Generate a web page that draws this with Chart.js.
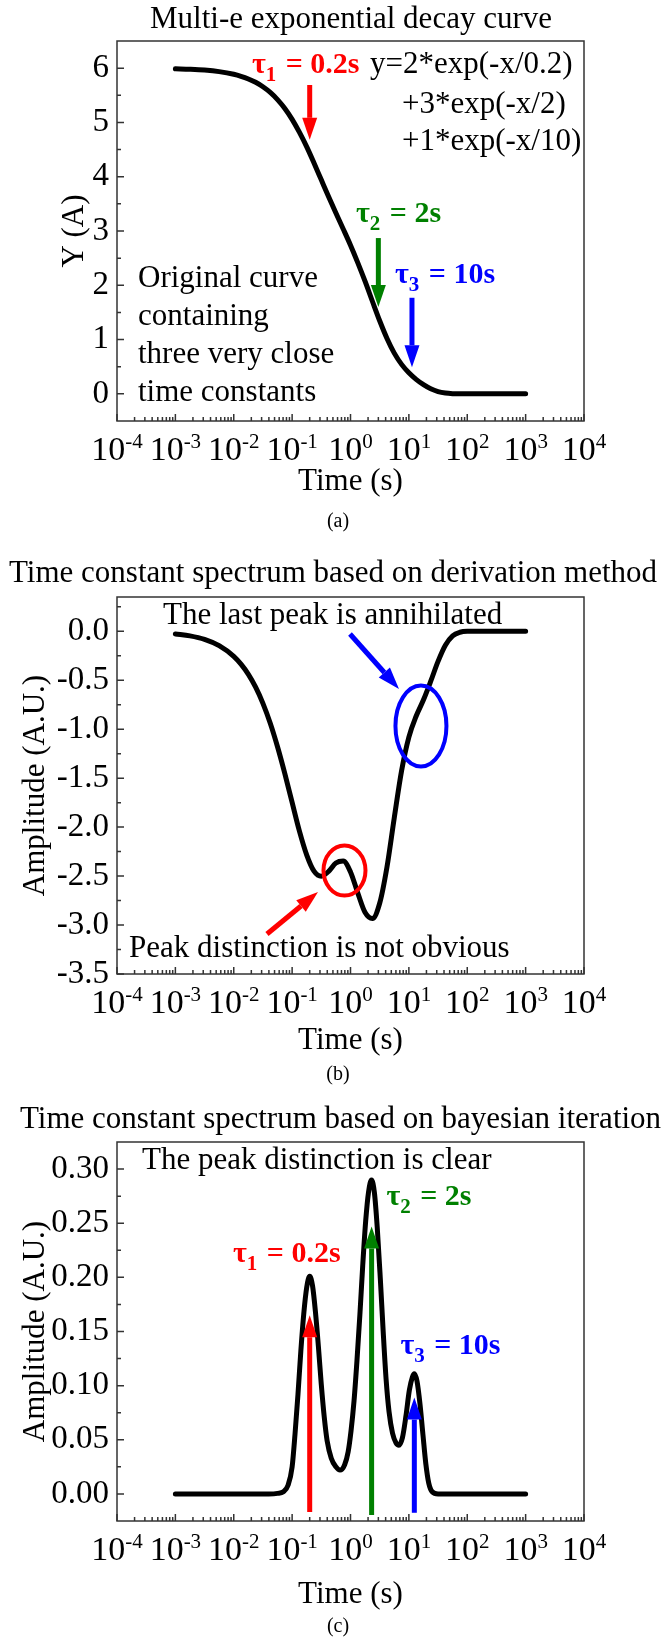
<!DOCTYPE html>
<html>
<head>
<meta charset="utf-8">
<script src="https://cdn.jsdelivr.net/npm/chart.js@4.4.1/dist/chart.umd.min.js"></script>
<style>
  html, body { margin: 0; padding: 0; background: #fff; }
  body { width: 661px; height: 1638px; position: relative; overflow: hidden; }
  canvas { position: absolute; left: 0; }
</style>
</head>
<body>
<canvas id="chartA" width="661" height="545" style="top:0px"></canvas>
<canvas id="chartB" width="661" height="550" style="top:545px"></canvas>
<canvas id="chartC" width="661" height="543" style="top:1095px"></canvas>
<script>
// sample times (s) shared by the decay curve and its derivative spectrum
const timeGrid = [0.001, 0.00178, 0.00316, 0.00562, 0.01, 0.0133, 0.0178, 0.0237, 0.0316, 0.0422,
  0.0562, 0.075, 0.1, 0.133, 0.178, 0.237, 0.316, 0.422, 0.562, 0.75,
  1, 1.33, 1.78, 2.37, 3.16, 4.22, 5.62, 7.5, 10, 13.3,
  17.8, 23.7, 31.6, 42.2, 56.2, 75, 100, 178, 316, 562, 1000];

// (a) multi-exponential decay, Y (A)
const currentA = [5.988, 5.979, 5.964, 5.936, 5.887, 5.850, 5.801, 5.739, 5.657, 5.553,
  5.421, 5.257, 5.057, 4.820, 4.549, 4.252, 3.942, 3.631, 3.330, 3.037,
  2.738, 2.418, 2.070, 1.706, 1.346, 1.020, 0.750, 0.543, 0.388, 0.267,
  0.169, 0.093, 0.042, 0.015, 0.004, 0.001, 0, 0, 0, 0, 0];

// (b) spectrum from the derivation method
const ampB = [-0.027, -0.047, -0.083, -0.147, -0.256, -0.336, -0.440, -0.571, -0.736, -0.939,
  -1.179, -1.453, -1.748, -2.038, -2.285, -2.449, -2.501, -2.452, -2.367, -2.347,
  -2.458, -2.672, -2.873, -2.934, -2.778, -2.406, -1.905, -1.425, -1.080, -0.868,
  -0.700, -0.510, -0.308, -0.143, -0.047, -0.010, -0.001, 0, 0, 0, 0];

// (c) spectrum from bayesian iteration
const timeC = [0.001, 0.01, 0.0398, 0.0562, 0.0708, 0.0851, 0.1, 0.112, 0.126, 0.141,
  0.158, 0.178, 0.2, 0.224, 0.251, 0.282, 0.316, 0.355, 0.398, 0.468,
  0.562, 0.661, 0.794, 0.912, 1.02, 1.15, 1.29, 1.45, 1.62, 1.82,
  2.04, 2.29, 2.57, 2.88, 3.24, 3.63, 4.07, 4.57, 5.25, 6.03,
  6.76, 7.76, 8.91, 10.2, 11.5, 12.4, 13.8, 15.5, 17.4, 19.5,
  21.9, 25.1, 31.6, 100, 1000];
const ampC = [0, 0, 0, 0.0005, 0.002, 0.008, 0.025, 0.055, 0.092, 0.132,
  0.166, 0.191, 0.201, 0.192, 0.168, 0.136, 0.101, 0.071, 0.049, 0.033,
  0.025, 0.022, 0.027, 0.039, 0.058, 0.086, 0.123, 0.166, 0.211, 0.252,
  0.279, 0.290, 0.278, 0.245, 0.199, 0.150, 0.106, 0.076, 0.056, 0.047,
  0.045, 0.052, 0.072, 0.096, 0.108, 0.111, 0.104, 0.083, 0.055, 0.028,
  0.010, 0.002, 0, 0, 0];

// axis ticks
const decades = [-4, -3, -2, -1, 0, 1, 2, 3, 4];
const yTicksA = [0, 1, 2, 3, 4, 5, 6];
const yMinorA = [0.5, 1.5, 2.5, 3.5, 4.5, 5.5];
const yTicksB = [0, -0.5, -1, -1.5, -2, -2.5, -3, -3.5];
const yMinorB = [0.25, -0.25, -0.75, -1.25, -1.75, -2.25, -2.75, -3.25];
const yTicksC = [0, 0.05, 0.1, 0.15, 0.2, 0.25, 0.3];
const yMinorC = [0.025, 0.075, 0.125, 0.175, 0.225, 0.275];

const SERIF = '"Liberation Serif", "Times New Roman", serif';
const AXIS = '#333';
const RED = '#ff0000', GREEN = '#008000', BLUE = '#0000ff';
const PLOT_LEFT = 117, PLOT_RIGHT = 584;

const minorX = [];
decades.slice(0, -1).forEach(e => { for (let m = 2; m <= 9; m++) minorX.push(m * Math.pow(10, e)); });

function tau(n, rest, x, y, color) {
  return { x, y, color, bold: true, size: 30, runs: [{ t: 'τ' }, { t: n, sub: true }, { t: rest }] };
}
function plain(text, x, y) {
  return { x, y, color: '#000', bold: false, size: 31, runs: [{ t: text }] };
}

function drawRuns(ctx, item, px, py) {
  let cx = px;
  ctx.fillStyle = item.color;
  ctx.textAlign = 'left';
  ctx.textBaseline = 'alphabetic';
  item.runs.forEach(r => {
    const size = r.sub ? Math.round(item.size * 0.7) : item.size;
    ctx.font = `${item.bold ? 'bold ' : ''}${size}px ${SERIF}`;
    ctx.fillText(r.t, cx, py + (r.sub ? 8 : 0));
    cx += ctx.measureText(r.t).width + (r.sub ? 2 : 0);
  });
}

function drawArrow(ctx, x1, y1, x2, y2, color) {
  const ang = Math.atan2(y2 - y1, x2 - x1);
  const headLen = 22, headHalf = 7.5;
  const bx = x2 - headLen * Math.cos(ang), by = y2 - headLen * Math.sin(ang);
  ctx.strokeStyle = color;
  ctx.fillStyle = color;
  ctx.lineWidth = 5;
  ctx.lineCap = 'butt';
  ctx.beginPath();
  ctx.moveTo(x1, y1);
  ctx.lineTo(bx, by);
  ctx.stroke();
  ctx.beginPath();
  ctx.moveTo(x2, y2);
  ctx.lineTo(bx + headHalf * Math.sin(ang), by - headHalf * Math.cos(ang));
  ctx.lineTo(bx - headHalf * Math.sin(ang), by + headHalf * Math.cos(ang));
  ctx.closePath();
  ctx.fill();
}

// frame, inward ticks, power-of-ten labels, titles and the annotations
function decor(panel) {
  return {
    id: 'decor',
    afterDraw(chart) {
      const { ctx, chartArea: a } = chart;
      const xs = chart.scales.x, ys = chart.scales.y;
      ctx.save();

      ctx.strokeStyle = AXIS;
      ctx.lineWidth = 1.5;
      ctx.strokeRect(a.left, a.top, a.right - a.left, a.bottom - a.top);
      ctx.beginPath();
      decades.forEach(e => {
        const px = xs.getPixelForValue(Math.pow(10, e));
        ctx.moveTo(px, a.bottom); ctx.lineTo(px, a.bottom - 7);
      });
      minorX.forEach(v => {
        const px = xs.getPixelForValue(v);
        ctx.moveTo(px, a.bottom); ctx.lineTo(px, a.bottom - 4);
      });
      panel.yMajor.forEach(v => {
        const py = ys.getPixelForValue(v);
        ctx.moveTo(a.left, py); ctx.lineTo(a.left + 7, py);
      });
      panel.yMinor.forEach(v => {
        const py = ys.getPixelForValue(v);
        ctx.moveTo(a.left, py); ctx.lineTo(a.left + 4, py);
      });
      ctx.stroke();

      ctx.fillStyle = '#000';
      ctx.textAlign = 'left';
      ctx.textBaseline = 'alphabetic';
      decades.forEach(e => {
        const base = '10', sup = e < 0 ? '-' + (-e) : String(e);
        ctx.font = `34px ${SERIF}`;
        const wb = ctx.measureText(base).width;
        ctx.font = `21px ${SERIF}`;
        const ws = ctx.measureText(sup).width;
        const left = xs.getPixelForValue(Math.pow(10, e)) - (wb + ws) / 2;
        const by = a.bottom + 39;
        ctx.font = `34px ${SERIF}`;
        ctx.fillText(base, left, by);
        ctx.font = `21px ${SERIF}`;
        ctx.fillText(sup, left + wb, by - 12);
      });

      ctx.font = `31px ${SERIF}`;
      ctx.textAlign = panel.title.align;
      ctx.fillText(panel.title.text, panel.title.x, panel.title.y);
      ctx.font = `20px ${SERIF}`;
      ctx.textAlign = 'center';
      ctx.textBaseline = 'middle';
      ctx.fillText(panel.caption.text, panel.caption.x, panel.caption.y);

      (panel.ellipses || []).forEach(el => {
        ctx.strokeStyle = el.color;
        ctx.lineWidth = 4;
        ctx.beginPath();
        ctx.ellipse(xs.getPixelForValue(el.x), ys.getPixelForValue(el.y), el.rx, el.ry, 0, 0, Math.PI * 2);
        ctx.stroke();
      });
      (panel.arrows || []).forEach(ar => {
        drawArrow(ctx, xs.getPixelForValue(ar.from[0]), ys.getPixelForValue(ar.from[1]),
          xs.getPixelForValue(ar.to[0]), ys.getPixelForValue(ar.to[1]), ar.color);
      });
      (panel.texts || []).forEach(t => drawRuns(ctx, t, xs.getPixelForValue(t.x), ys.getPixelForValue(t.y)));

      ctx.restore();
    }
  };
}

function makeChart(id, panel) {
  const canvas = document.getElementById(id);
  const H = canvas.height;
  return new Chart(canvas, {
    type: 'line',
    data: {
      datasets: [{
        data: panel.times.map((t, i) => ({ x: t, y: panel.values[i] })),
        borderColor: '#000',
        borderWidth: 5,
        pointRadius: 0,
        fill: false,
        cubicInterpolationMode: 'monotone',
        borderCapStyle: 'round',
        borderJoinStyle: 'round'
      }]
    },
    options: {
      responsive: false,
      animation: false,
      devicePixelRatio: 1,
      layout: { padding: { top: panel.plotTop, right: 661 - PLOT_RIGHT, bottom: 0, left: 0 } },
      plugins: { legend: { display: false }, tooltip: { enabled: false }, title: { display: false } },
      scales: {
        x: {
          type: 'logarithmic',
          min: 1e-4,
          max: 1e4,
          ticks: { display: false },
          grid: { display: false, drawTicks: false },
          border: { display: false },
          title: {
            display: true, text: 'Time (s)', color: '#000',
            font: { family: SERIF, size: 31 },
            padding: { top: 0, bottom: panel.xTitlePad }
          },
          afterFit: s => { s.height = H - panel.plotBottom; }
        },
        y: {
          type: 'linear',
          min: panel.yMin,
          max: panel.yMax,
          afterBuildTicks: s => { s.ticks = panel.yMajor.map(v => ({ value: v })); },
          ticks: {
            color: '#000', padding: 8, autoSkip: false,
            font: { family: SERIF, size: 33 },
            callback: v => v.toFixed(panel.digits)
          },
          grid: { display: false, drawTicks: false },
          border: { display: false },
          title: {
            display: true, text: panel.yTitle, color: '#000',
            font: { family: SERIF, size: 31 },
            padding: { top: panel.yTitlePad, bottom: 0 }
          },
          afterFit: s => { s.width = PLOT_LEFT; }
        }
      }
    },
    plugins: [decor(panel)]
  });
}

makeChart('chartA', {
  times: timeGrid, values: currentA,
  plotTop: 41, plotBottom: 421,
  yMin: -0.5, yMax: 6.5, yMajor: yTicksA, yMinor: yMinorA, digits: 0,
  yTitle: 'Y (A)', yTitlePad: 56, xTitlePad: 45,
  title: { text: 'Multi-e exponential decay curve', x: 351, y: 28, align: 'center' },
  caption: { text: '(a)', x: 338, y: 522 },
  arrows: [
    { from: [0.2, 5.69], to: [0.2, 4.68], color: RED },
    { from: [3, 2.87], to: [3, 1.60], color: GREEN },
    { from: [11.3, 1.77], to: [11.3, 0.49], color: BLUE }
  ],
  texts: [
    tau('1', ' = 0.2s', 0.0205, 5.91, RED),
    tau('2', ' = 2s', 1.24, 3.166, GREEN),
    tau('3', ' = 10s', 5.78, 2.042, BLUE),
    plain('y=2*exp(-x/0.2)', 2.16, 5.91),
    plain('+3*exp(-x/2)', 7.62, 5.18),
    plain('+1*exp(-x/10)', 7.62, 4.49),
    plain('Original curve', 2.29e-4, 1.968),
    plain('containing', 2.29e-4, 1.268),
    plain('three very close', 2.29e-4, 0.568),
    plain('time constants', 2.29e-4, -0.132)
  ]
});

makeChart('chartB', {
  times: timeGrid, values: ampB,
  plotTop: 52, plotBottom: 429,
  yMin: -3.5, yMax: 0.35, yMajor: yTicksB, yMinor: yMinorB, digits: 1,
  yTitle: 'Amplitude (A.U.)', yTitlePad: 17, xTitlePad: 36,
  title: { text: 'Time constant spectrum based on derivation method', x: 333, y: 37, align: 'center' },
  caption: { text: '(b)', x: 338, y: 530 },
  ellipses: [
    { x: 16.1, y: -0.967, rx: 25.5, ry: 40.5, color: BLUE },
    { x: 0.789, y: -2.443, rx: 21, ry: 25, color: RED }
  ],
  arrows: [
    { from: [0.98, -0.028], to: [6.77, -0.589], color: BLUE },
    { from: [0.0371, -3.091], to: [0.2776, -2.663], color: RED }
  ],
  texts: [
    plain('The last peak is annihilated', 6.14e-4, 0.074),
    plain('Peak distinction is not obvious', 1.61e-4, -3.326)
  ]
});

makeChart('chartC', {
  times: timeC, values: ampC,
  plotTop: 47, plotBottom: 426,
  yMin: -0.025, yMax: 0.325, yMajor: yTicksC, yMinor: yMinorC, digits: 2,
  yTitle: 'Amplitude (A.U.)', yTitlePad: 17, xTitlePad: 25,
  title: { text: 'Time constant spectrum based on bayesian iteration', x: 20, y: 33, align: 'left' },
  caption: { text: '(c)', x: 338, y: 532 },
  arrows: [
    { from: [0.2, -0.0167], to: [0.2, 0.165], color: RED },
    { from: [2.3, -0.0195], to: [2.3, 0.247], color: GREEN },
    { from: [12.4, -0.0174], to: [12.4, 0.089], color: BLUE }
  ],
  texts: [
    plain('The peak distinction is clear', 2.68e-4, 0.300),
    tau('1', ' = 0.2s', 0.0097, 0.214, RED),
    tau('2', ' = 2s', 4.12, 0.267, GREEN),
    tau('3', ' = 10s', 7.16, 0.129, BLUE)
  ]
});
</script>
</body>
</html>
